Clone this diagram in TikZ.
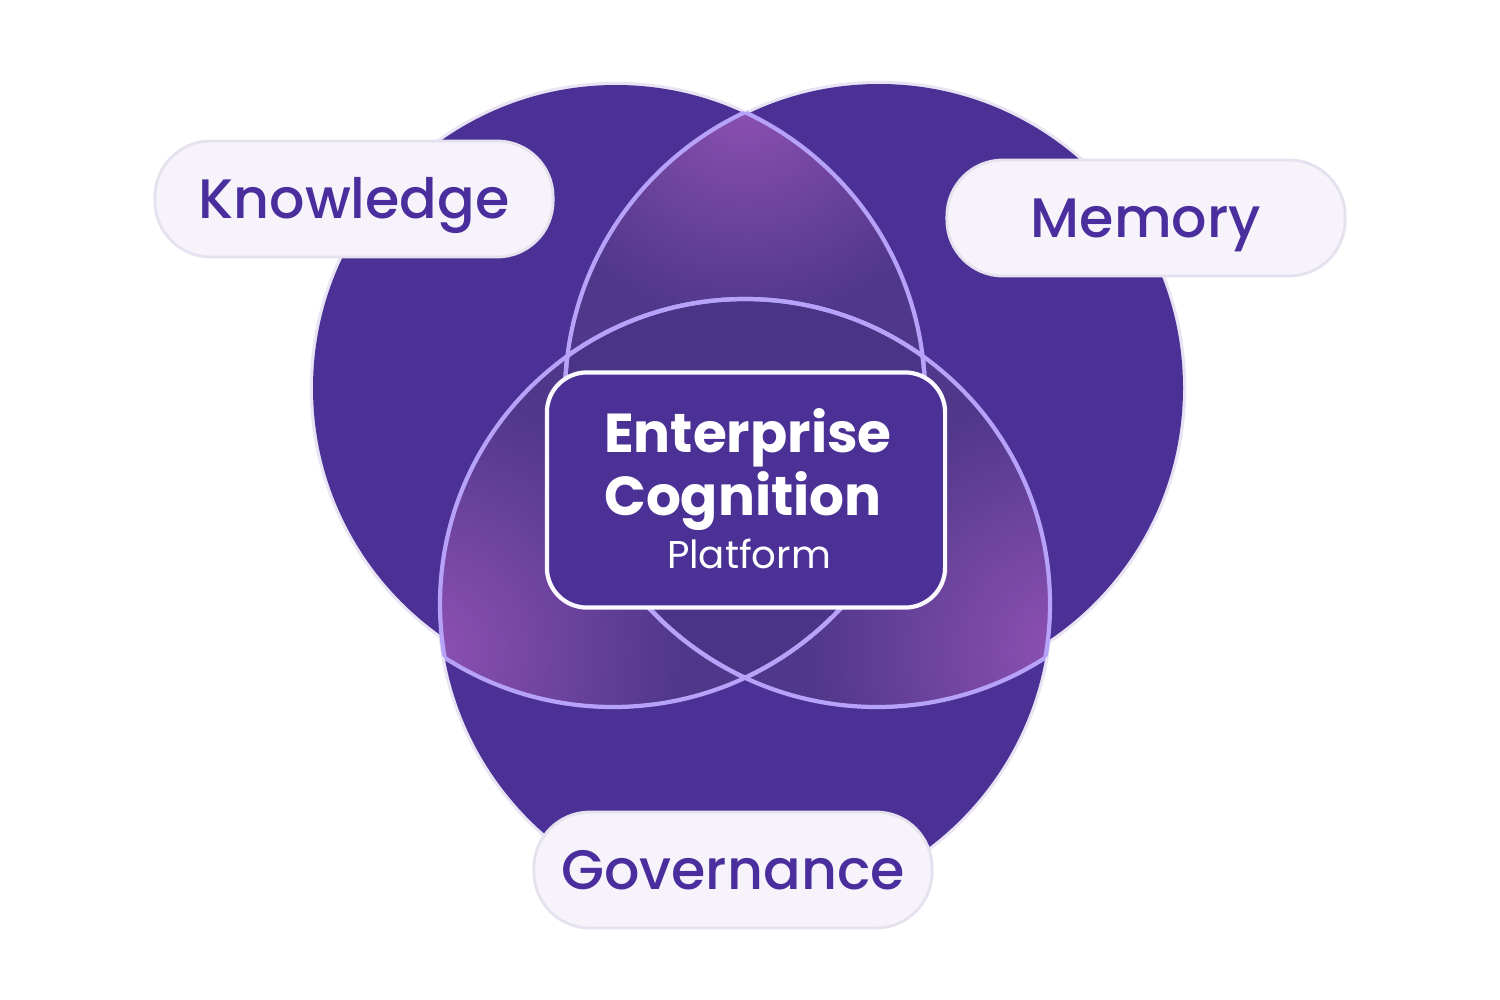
\documentclass[tikz,border=0pt]{standalone}
\usepackage{fontspec}
\setmainfont{Poppins}
\newfontfamily\pillfont{Poppins}[UprightFont=* Medium]
\usepackage{xcolor}
\usepackage{tikz}
\usetikzlibrary{positioning}
\definecolor{vennfill}{HTML}{4B3196}
\definecolor{venncore}{HTML}{4A3486}
\definecolor{lenslight}{HTML}{8E51B3}
\definecolor{lensdark}{HTML}{4F378A}
\definecolor{vennline}{HTML}{B6A2F8}
\definecolor{ringgray}{HTML}{E9E4F4}
\definecolor{pillfill}{HTML}{F6F3FA}
\definecolor{pillborder}{HTML}{E6E1EE}
\definecolor{labelc}{HTML}{4A2E9E}
\tikzset{
    venn ring/.style={
        draw=ringgray,
        line width=1.8pt
    },
    venn fill/.style={
        fill=vennfill
    },
    venn line/.style={
        draw=vennline,
        line width=1.2pt
    },
    pill/.style={
        rectangle,
        rounded corners=0.56cm,
        draw=pillborder,
        line width=0.8pt,
        fill=pillfill,
        minimum width=3.98cm,
        minimum height=1.16cm,
        text height=11.2pt,
        text depth=0pt,
        text=labelc,
        font=\pillfont\fontsize{15.8}{19}\selectfont
    },
    corebox/.style={
        rectangle,
        rounded corners=0.4cm,
        draw=white!94!vennline,
        line width=1.2pt,
        fill=vennfill,
        minimum width=3.98cm,
        minimum height=2.35cm
    },
    coretitle/.style={
        text=white,
        inner sep=0pt,
        anchor=base,
        font=\fontsize{15.6}{19}\bfseries\selectfont
    },
    coresub/.style={
        text=white,
        inner sep=0pt,
        anchor=base,
        font=\fontsize{11}{14}\selectfont
    }
}
% circles: filled ones and the outlined ones
\def\kfill{(616,388) circle (303)}
\def\mfill{(879,388) circle (304)}
\def\gfill{(745,604) circle (305)}
\def\kring{(613,395) circle (312)}
\def\mring{(877,395) circle (312)}
\def\gring{(745,604) circle (305)}

\begin{document}
\begin{tikzpicture}[x=0.01cm, y=-0.01cm]

\fill[white] (0,0) rectangle (1500,1000);
\useasboundingbox (0,0) rectangle (1500,1000);

% Outer circles
\path[venn ring] \kfill;
\path[venn ring] \mfill;
\path[venn ring] \gfill;
\path[venn fill] \kfill;
\path[venn fill] \mfill;
\path[venn fill] \gfill;

% Top lens (Knowledge & Memory)
\begin{scope}
\clip \kring;
\clip \mring;
\fill[lensdark] (400,80) rectangle (1100,720);
\shade[inner color=lenslight, outer color=lensdark] (745,95) circle (230);
\end{scope}

% Lower left lens (Knowledge & Governance)
\begin{scope}
\clip \kring;
\clip \gring;
\fill[lensdark] (400,80) rectangle (1100,720);
\shade[inner color=lenslight, outer color=lensdark] (425,650) circle (260);
\end{scope}

% Lower right lens (Memory & Governance)
\begin{scope}
\clip \mring;
\clip \gring;
\fill[lensdark] (400,80) rectangle (1100,720);
\shade[inner color=lenslight, outer color=lensdark] (1065,650) circle (260);
\end{scope}

% Middle part, all three
\begin{scope}
\clip \kring;
\clip \mring;
\clip \gring;
\fill[venncore] (400,80) rectangle (1100,720);
\end{scope}

% Inner outlines
\begin{scope}\clip \mring; \path[venn line] \kring;\end{scope}
\begin{scope}\clip \gring; \path[venn line] \kring;\end{scope}
\begin{scope}\clip \kring; \path[venn line] \mring;\end{scope}
\begin{scope}\clip \gring; \path[venn line] \mring;\end{scope}
\begin{scope}\clip \kring; \path[venn line] \gring;\end{scope}
\begin{scope}\clip \mring; \path[venn line] \gring;\end{scope}

% Centre box
\node[corebox] (core) at (746,490) {};
\node[coretitle] (ent) at (748,452) {Enterprise};
\node[coretitle] (cog) at (743,515) {Cognition};
\node[coresub] (plat) at (749,568) {Platform};

% Labels
\node[pill] (know) at (354,199) {Knowledge};
\node[pill] (mem) at (1146,218) {Memory};
\node[pill] (gov) at (733,870) {Governance};

\end{tikzpicture}
\end{document}
